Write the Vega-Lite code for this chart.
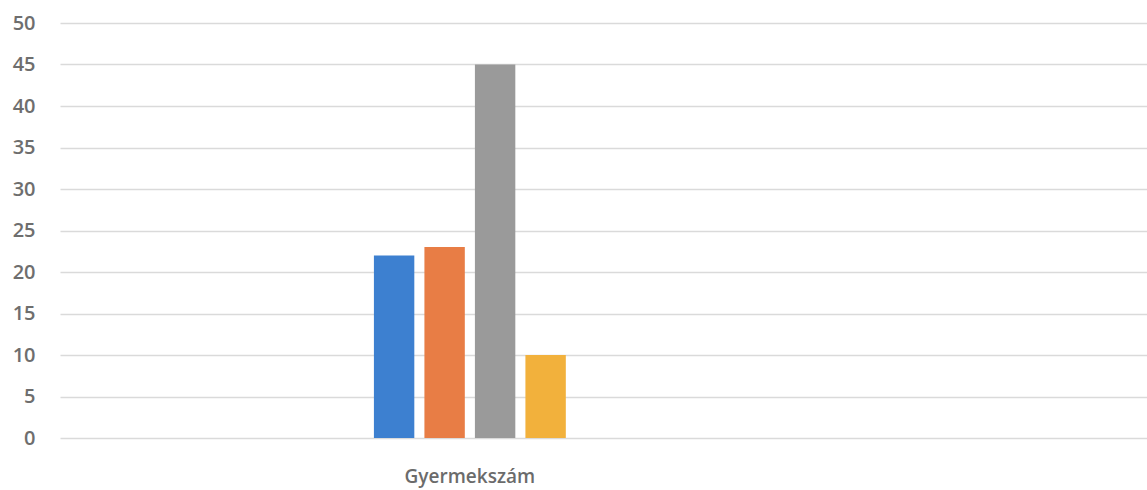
{
  "$schema": "https://vega.github.io/schema/vega-lite/v6.json",
  "width": 1087,
  "height": 415,
  "autosize": "none",
  "padding": {"left": 60, "top": 23, "right": 0, "bottom": 52},
  "background": "white",
  "config": {"view": {"stroke": null}, "font": "Open Sans"},
  "data": {
    "values": [
      {"kategoria": "Gyermekszám", "sorozat": "Sorozat1", "ertek": 22},
      {"kategoria": "Gyermekszám", "sorozat": "Sorozat2", "ertek": 23},
      {"kategoria": "Gyermekszám", "sorozat": "Sorozat3", "ertek": 45},
      {"kategoria": "Gyermekszám", "sorozat": "Sorozat4", "ertek": 10}
    ]
  },
  "mark": {"type": "bar"},
  "encoding": {
    "x": {
      "field": "kategoria",
      "type": "nominal",
      "scale": {"paddingInner": 0.5435, "paddingOuter": 1, "align": 0.349},
      "axis": {
        "title": null,
        "labelAngle": 0,
        "domain": false,
        "ticks": false,
        "labelFontSize": 19,
        "labelFontWeight": 600,
        "labelColor": "#6b6b6b",
        "labelPadding": 29
      }
    },
    "xOffset": {
      "field": "sorozat",
      "type": "nominal",
      "scale": {"paddingInner": 0.2, "paddingOuter": 0.1}
    },
    "y": {
      "field": "ertek",
      "type": "quantitative",
      "scale": {"domain": [0, 50], "nice": false},
      "axis": {
        "title": null,
        "values": [0, 5, 10, 15, 20, 25, 30, 35, 40, 45, 50],
        "domain": false,
        "ticks": false,
        "labelFontSize": 20,
        "labelFontWeight": 600,
        "labelColor": "#6e6e6e",
        "labelPadding": 25,
        "gridColor": "#dadada",
        "gridWidth": 1.5
      }
    },
    "color": {
      "field": "sorozat",
      "type": "nominal",
      "scale": {"range": ["#3d80d0", "#e87d45", "#9a9a9a", "#f2b13c"]},
      "legend": null
    }
  }
}
